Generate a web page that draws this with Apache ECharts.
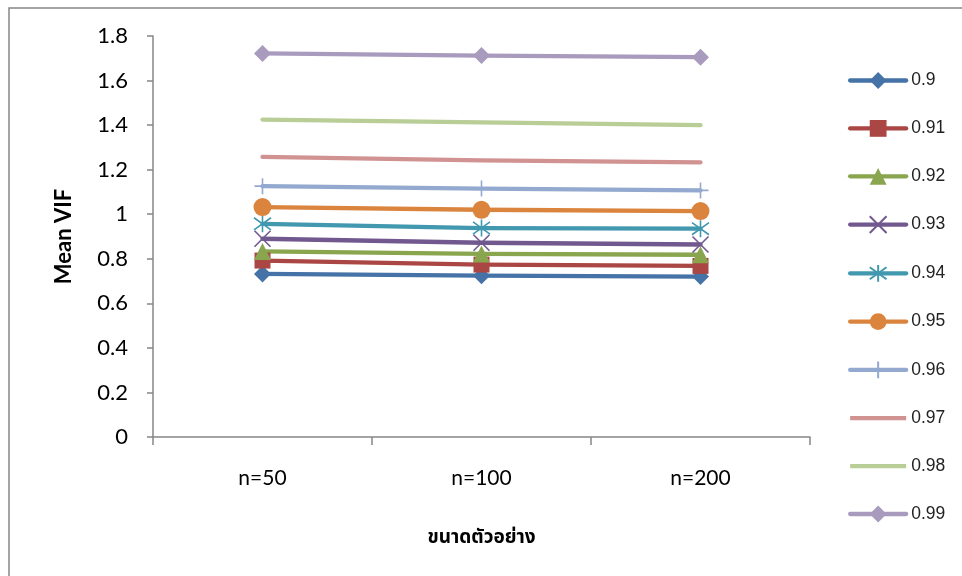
<!DOCTYPE html>
<html>
<head>
<meta charset="utf-8">
<script src="https://cdn.jsdelivr.net/npm/echarts@6/dist/echarts.min.js"></script>
<style>
  html, body { margin: 0; padding: 0; background: #fff; }
  #chart { width: 962px; height: 576px; }
</style>
</head>
<body>
<div id="chart"></div>
<script>
// Sample sizes on the category axis
const categories = ['n=50', 'n=100', 'n=200'];

// Mean VIF per correlation level
const seriesNames = ['0.9', '0.91', '0.92', '0.93', '0.94', '0.95', '0.96', '0.97', '0.98', '0.99'];
const vif090 = [0.732, 0.724, 0.720];
const vif091 = [0.792, 0.774, 0.768];
const vif092 = [0.833, 0.822, 0.818];
const vif093 = [0.890, 0.872, 0.864];
const vif094 = [0.957, 0.938, 0.935];
const vif095 = [1.032, 1.020, 1.014];
const vif096 = [1.126, 1.115, 1.107];
const vif097 = [1.257, 1.242, 1.233];
const vif098 = [1.425, 1.412, 1.400];
const vif099 = [1.722, 1.712, 1.705];
const seriesValues = [vif090, vif091, vif092, vif093, vif094, vif095, vif096, vif097, vif098, vif099];

// Y axis ticks
const yTicks = [0, 0.2, 0.4, 0.6, 0.8, 1, 1.2, 1.4, 1.6, 1.8];

const colors = ['#4572A7', '#AA4643', '#89A54E', '#71588F', '#4198AF',
                '#DB843D', '#93A9CF', '#D19392', '#B9CD96', '#A99BBD'];

// Marker style per series: [symbol, size, stroked outline only]
const markers = [
  ['diamond', 17, false],
  ['rect', 16, false],
  ['triangle', 17, false],
  ['path://M0,0 L10,10 M10,0 L0,10', 16, true],
  ['path://M0,0 L10,10 M10,0 L0,10 M5,-2 L5,12', 17, true],
  ['circle', 18, false],
  ['path://M5,0 L5,10 M-1,5 L11,5', 16, true],
  ['none', 0, false],
  ['none', 0, false],
  ['diamond', 17, false]
];

const series = seriesNames.map((name, i) => {
  const [sym, size, stroked] = markers[i];
  return {
    name: name,
    type: 'line',
    data: seriesValues[i],
    symbol: sym,
    symbolSize: size,
    showSymbol: sym !== 'none',
    lineStyle: { color: colors[i], width: 4.3, cap: 'round', join: 'round' },
    itemStyle: stroked
      ? { color: 'rgba(0,0,0,0)', borderColor: colors[i], borderWidth: 1.6 }
      : { color: colors[i], borderWidth: 0 },
    emphasis: { disabled: true },
    animation: false
  };
});

// Plain-line legend icon for series without markers
const plainLine = 'path://M0,0 L56,0 L56,4.3 L0,4.3 Z';
const legendData = seriesNames.map((name, i) =>
  markers[i][0] === 'none' ? { name: name, icon: plainLine } : { name: name });

const chart = echarts.init(document.getElementById('chart'), null, { renderer: 'canvas' });
chart.setOption({
  backgroundColor: '#ffffff',
  animation: false,
  grid: { left: 153, right: 152, top: 36, bottom: 139, containLabel: false },
  graphic: [{
    type: 'rect',
    shape: { x: 9, y: 8, width: 1000, height: 620 },
    style: { fill: 'none', stroke: '#868686', lineWidth: 1.5 },
    silent: true, z: -10
  }],
  legend: {
    orient: 'vertical',
    left: 843,
    top: 66.5,
    itemWidth: 56,
    itemHeight: 21,
    itemGap: 29.9,
    data: legendData,
    selectedMode: false,
    lineStyle: { width: 4.3, cap: 'round' },
    textStyle: { fontFamily: 'Liberation Sans', fontSize: 17.5, color: '#222' }
  },
  xAxis: {
    type: 'category',
    data: categories,
    boundaryGap: true,
    name: 'ขนาดตัวอย่าง',
    nameLocation: 'middle',
    nameGap: 93,
    nameTextStyle: { fontFamily: 'Noto Sans Thai, Noto Sans, sans-serif', fontSize: 19, fontWeight: 'bold', color: '#000' },
    axisLine: { lineStyle: { color: '#868686', width: 1.5 } },
    axisTick: { show: true, length: 8, alignWithLabel: false, lineStyle: { color: '#868686', width: 1.5 } },
    axisLabel: { margin: 31, fontFamily: 'Lato', fontSize: 21, color: '#000' },
    splitLine: { show: false }
  },
  yAxis: {
    type: 'value',
    min: yTicks[0],
    max: yTicks[yTicks.length - 1],
    interval: 0.2,
    name: 'Mean VIF',
    nameLocation: 'middle',
    nameGap: 78,
    nameRotate: 90,
    nameTextStyle: { fontFamily: 'Lato', fontSize: 22, fontWeight: 'bold', color: '#000' },
    axisLine: { show: true, lineStyle: { color: '#868686', width: 1.5 } },
    axisTick: { show: true, length: 6, lineStyle: { color: '#868686', width: 1.5 } },
    axisLabel: {
      margin: 25, fontFamily: 'Lato', fontSize: 22, color: '#000',
      formatter: v => {
        const t = yTicks.find(k => Math.abs(k - v) < 1e-9);
        return t === undefined ? '' : String(t);
      }
    },
    splitLine: { show: false }
  },
  series: series
});
</script>
</body>
</html>
